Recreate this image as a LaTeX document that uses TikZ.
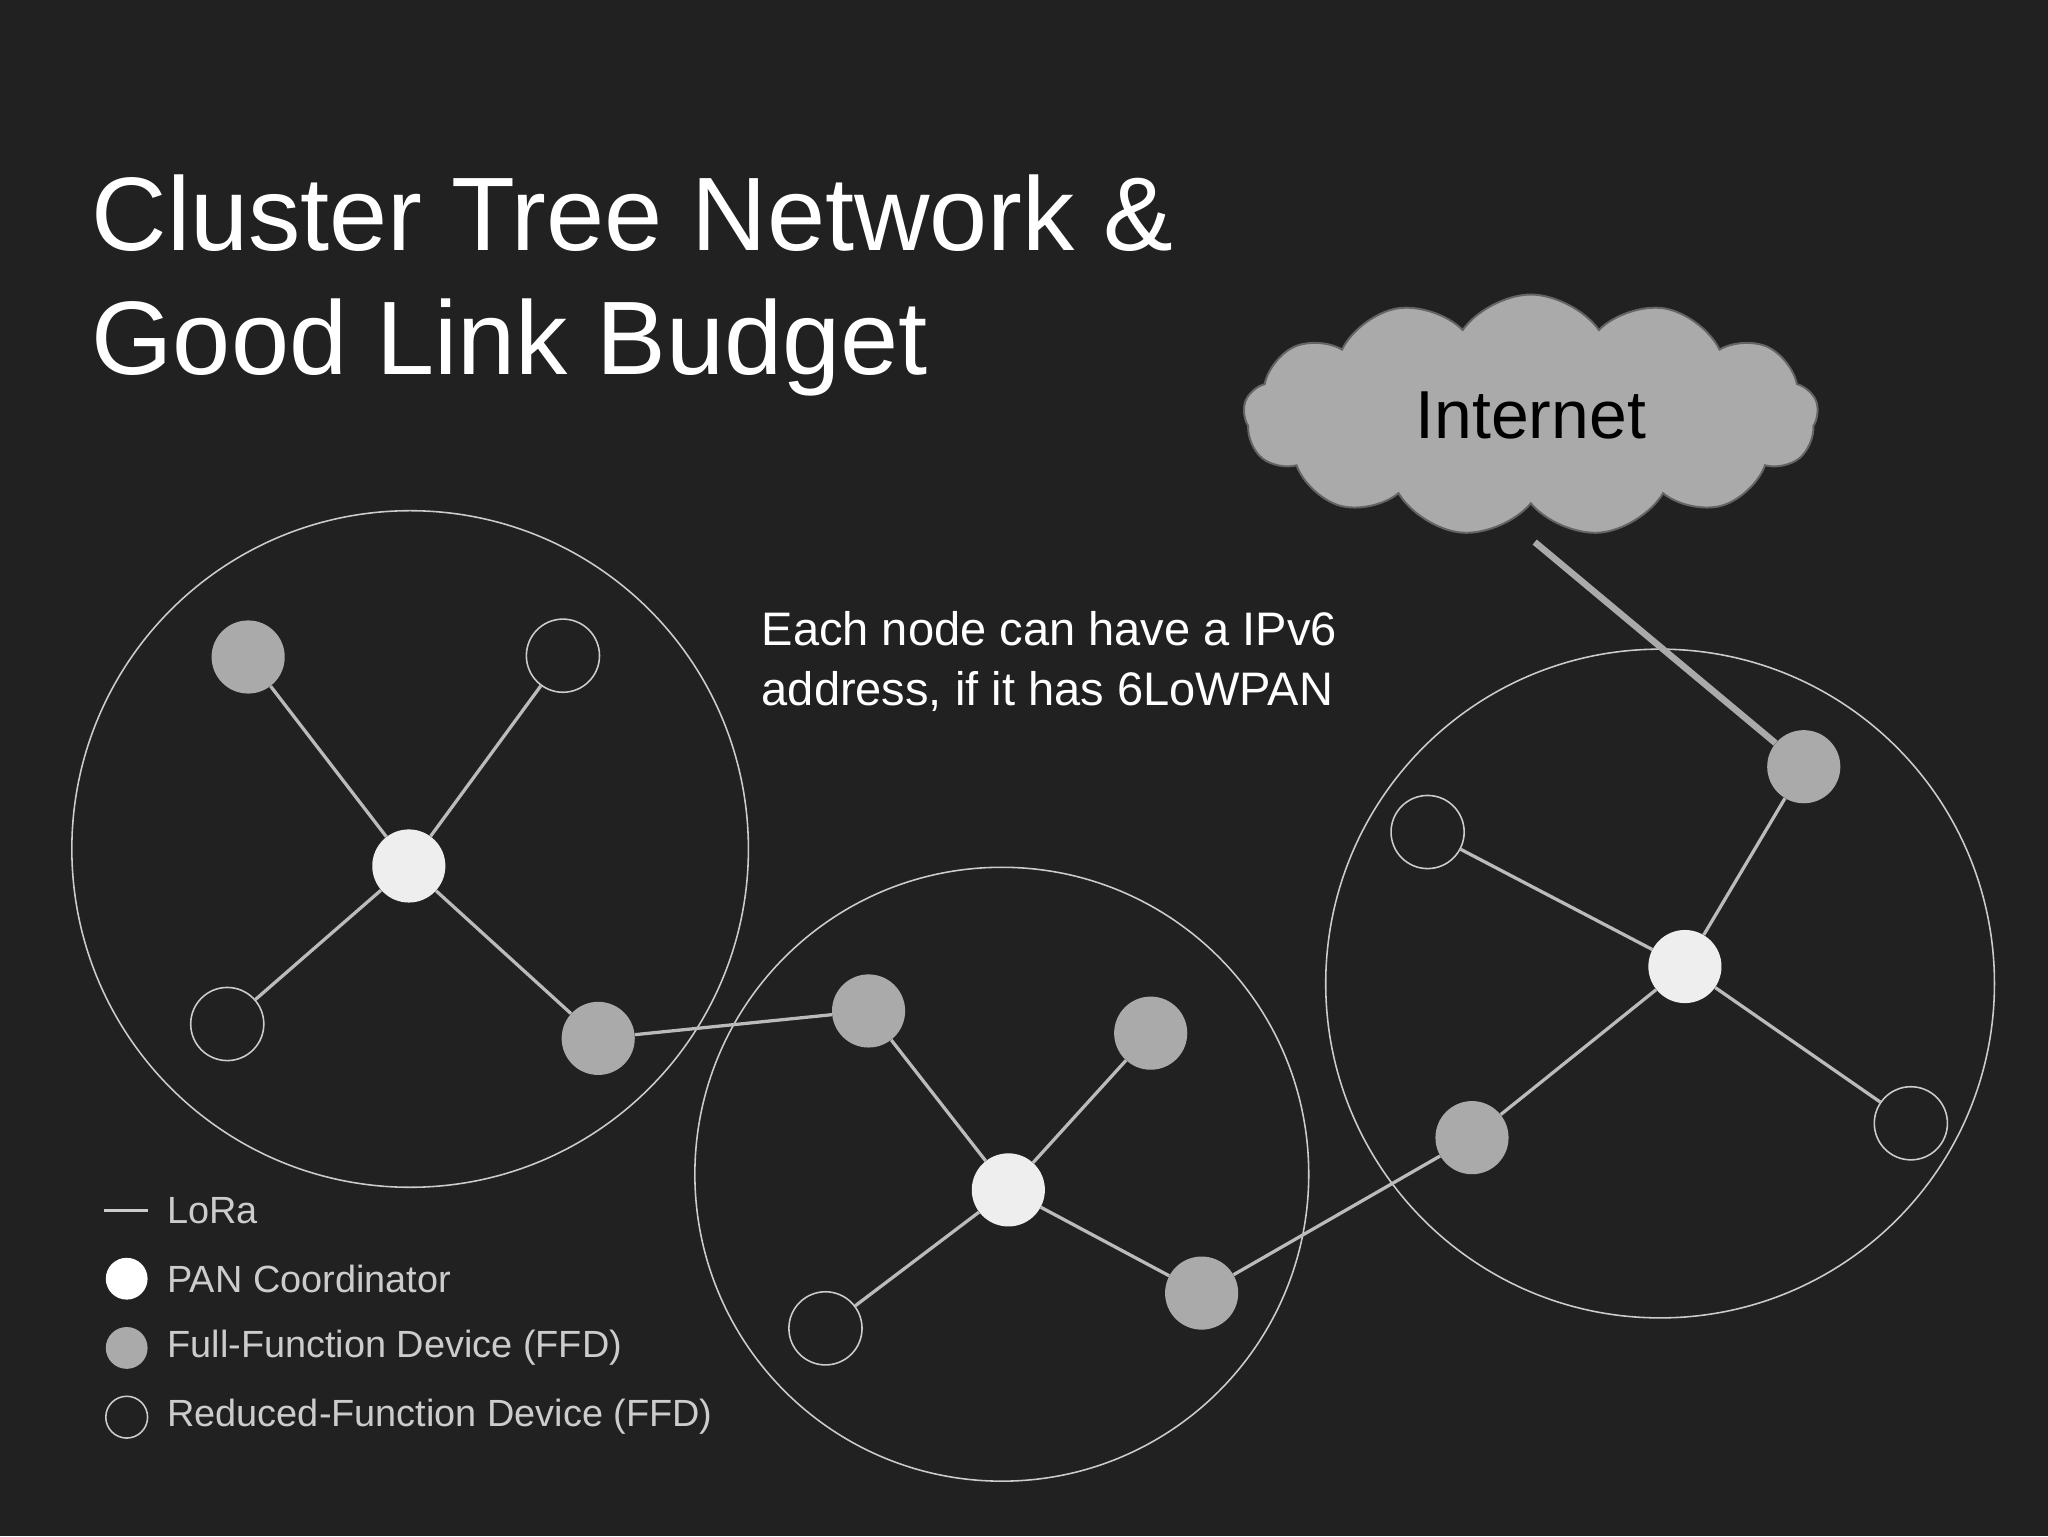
\documentclass[tikz,border=0pt]{standalone}
\usepackage{fontspec}
\setmainfont{Liberation Sans}
\usetikzlibrary{shapes.symbols}
\definecolor{bg}{HTML}{212121}
\definecolor{ffd}{HTML}{AAAAAA}
\definecolor{pan}{HTML}{EEEEEE}
\definecolor{ln}{HTML}{BBBBBB}
\definecolor{lg}{HTML}{CCCCCC}
\tikzset{
 panN/.style={circle,fill=pan,minimum size=56pt,inner sep=0pt},
 ffdN/.style={circle,fill=ffd,minimum size=56pt,inner sep=0pt},
 rfdN/.style={circle,draw=lg,line width=1.2pt,minimum size=56pt,inner sep=0pt},
 link/.style={ln,line width=2.5pt},
 clus/.style={lg,line width=1.2pt},
}
\begin{document}
\begin{tikzpicture}[x=1pt,y=-1pt]
\fill[bg] (0,0) rectangle (1568,1176);
\useasboundingbox (0,0) rectangle (1568,1176);
\node[anchor=base west,text=white,font=\fontsize{80}{96}\selectfont,inner sep=0pt] (t1) at (70,192) {Cluster Tree Network \&};
\node[anchor=base west,text=white,font=\fontsize{80}{96}\selectfont,inner sep=0pt] (t2) at (70,287) {Good Link Budget};
% clusters
\draw[clus] (314,650) circle (259);
\draw[clus] (767,899) circle (235);
\draw[clus] (1271,753) circle (256);
% cloud
\node[cloud,cloud puffs=13,cloud puff arc=110,aspect=2.4,fill=ffd,draw=bg!70,line width=1.5pt,minimum width=440pt,minimum height=185pt,font=\fontsize{52}{60}\selectfont,text=black] (net) at (1172,318) {Internet};
% nodes
\node[panN] (p1) at (313,663) {};
\node[ffdN] (a1) at (190,503) {};
\node[rfdN] (b1) at (431,502) {};
\node[rfdN] (c1) at (174,784) {};
\node[ffdN] (d1) at (458,795) {};
\node[panN] (p2) at (772,911) {};
\node[ffdN] (a2) at (665,774) {};
\node[ffdN] (b2) at (881,791) {};
\node[rfdN] (c2) at (632,1017) {};
\node[ffdN] (d2) at (920,990) {};
\node[panN] (p3) at (1290,740) {};
\node[ffdN] (a3) at (1381,587) {};
\node[rfdN] (b3) at (1093,637) {};
\node[ffdN] (c3) at (1127,871) {};
\node[rfdN] (d3) at (1463,860) {};
\coordinate (cb) at (1175,415);
\draw[link] (p1)--(a1) (p1)--(b1) (p1)--(c1) (p1)--(d1);
\draw[link] (p2)--(a2) (p2)--(b2) (p2)--(c2) (p2)--(d2);
\draw[link] (p3)--(a3) (p3)--(b3) (p3)--(c3) (p3)--(d3);
\draw[link] (d1)--(a2) (d2)--(c3);
\draw[ffd,line width=5pt] (cb)--(a3);
% text
\node[anchor=base west,text=white,font=\fontsize{36}{46}\selectfont,inner sep=0pt,align=left] (note) at (583,494) {Each node can have a IPv6};
\node[anchor=base west,text=white,font=\fontsize{36}{46}\selectfont,inner sep=0pt] (note2) at (583,540) {address, if it has 6LoWPAN};
% legend
\coordinate (l1) at (80,927); \coordinate (l2) at (113,927);
\draw[lg,line width=2.5pt] (l1)--(l2);
\tikzset{lt/.style={anchor=west,text=lg,font=\fontsize{29}{34}\selectfont,inner sep=0pt}}
\node[lt] (k1) at (128,927) {LoRa};
\node[circle,fill=white,minimum size=32pt,inner sep=0pt] (m2) at (97,979) {};
\node[lt] (k2) at (128,979) {PAN Coordinator};
\node[circle,fill=ffd,minimum size=32pt,inner sep=0pt] (m3) at (97,1032) {};
\node[lt] (k3) at (128,1032) {Full-Function Device (FFD)};
\node[circle,draw=lg,line width=1.2pt,minimum size=32pt,inner sep=0pt] (m4) at (97,1085) {};
\node[lt] (k4) at (128,1085) {Reduced-Function Device (FFD)};
\end{tikzpicture}
\end{document}
